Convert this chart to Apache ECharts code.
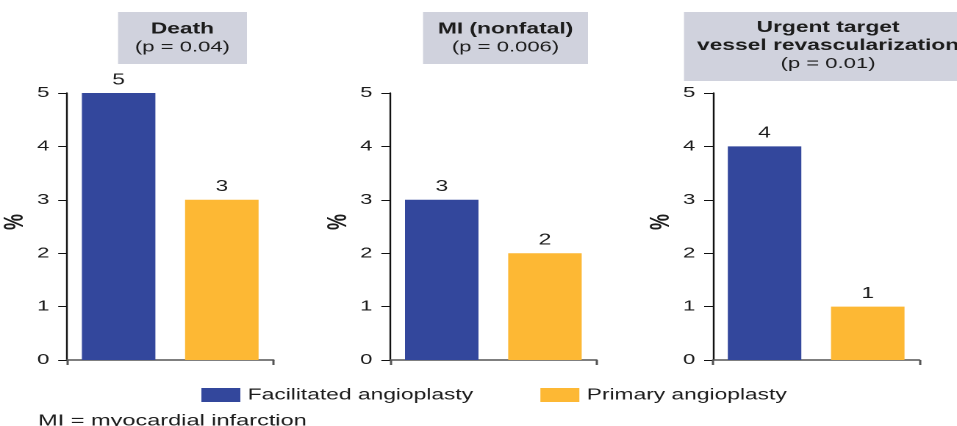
<!DOCTYPE html>
<html>
<head>
<meta charset="utf-8">
<script src="https://cdn.jsdelivr.net/npm/echarts@6/dist/echarts.min.js"></script>
<style>
  html, body { margin: 0; padding: 0; background: #ffffff; overflow: hidden; }
  #wrap { width: 957px; height: 426px; overflow: hidden; }
  /* the drawing is laid out on a narrow canvas and widened horizontally */
  #chart { width: 651px; height: 426px; transform: scaleX(1.47); transform-origin: 0 0; }
</style>
</head>
<body>
<div id="wrap"><div id="chart"></div></div>
<script>
// Outcome panels and their values (%)
const outcomeTitles = ['Death', 'MI (nonfatal)', 'Urgent target\nvessel revascularization'];
const pLabels = ['(p = 0.04)', '(p = 0.006)', '(p = 0.01)'];
const groups = ['Facilitated angioplasty', 'Primary angioplasty'];
const facilitated = [5, 3, 4];
const primary = [3, 2, 1];
const yMin = 0;
const yMax = 5;
const yStep = 1;
const yName = '%';
const footnote = 'MI = myocardial infarction';

// Layout (canvas units before horizontal widening)
const gridLefts = [45.6, 265.4, 485.0];
const gridWidth = 140.4;
const gridTop = 93;
const gridHeight = 267;
const boxes = [
  { x: 80.3, y: 12, w: 87.7, h: 52, cx: 124.1, cy: 38.5 },
  { x: 287.8, y: 12, w: 112.2, h: 52, cx: 343.9, cy: 38.5 },
  { x: 465.3, y: 12, w: 200, h: 69, cx: 563.3, cy: 46 }
];

const BLUE = '#33479c';
const ORANGE = '#fdb834';
const INK = '#1c1c1c';
const FONT = '"Liberation Sans", Arial, Helvetica, sans-serif';

const chart = echarts.init(document.getElementById('chart'), null, { renderer: 'canvas', devicePixelRatio: 2 });

const grids = [], xAxes = [], yAxes = [], series = [], graphics = [];

outcomeTitles.forEach((title, i) => {
  grids.push({ left: gridLefts[i], top: gridTop, width: gridWidth, height: gridHeight, containLabel: false });
  xAxes.push({
    type: 'category', gridIndex: i, data: groups,
    axisLine: { show: true, lineStyle: { color: '#555555', width: 1.6 } },
    axisTick: { show: true, length: 5, lineStyle: { color: '#555555', width: 1.5 } },
    axisLabel: { show: false }
  });
  yAxes.push({
    type: 'value', gridIndex: i, min: yMin, max: yMax, interval: yStep,
    name: yName, nameLocation: 'middle', nameGap: 26, nameRotate: 90,
    nameTextStyle: { fontFamily: FONT, fontWeight: 'bold', fontSize: 18, color: INK, padding: [0, 0, 0, 9] },
    axisLine: { show: true, lineStyle: { color: '#111111', width: 1.2 } },
    axisTick: { show: true, length: 6, lineStyle: { color: '#111111', width: 1 } },
    axisLabel: { margin: 12, fontFamily: FONT, fontSize: 15, color: INK },
    splitLine: { show: false }
  });
  const labelStyle = { show: true, position: 'top', distance: 5, fontFamily: FONT, fontSize: 15.5, color: INK };
  series.push({
    type: 'bar', name: groups[0], xAxisIndex: i, yAxisIndex: i,
    data: [facilitated[i], '-'], barWidth: 50, barGap: '-100%',
    itemStyle: { color: BLUE }, label: labelStyle, silent: true
  });
  series.push({
    type: 'bar', name: groups[1], xAxisIndex: i, yAxisIndex: i,
    data: ['-', primary[i]], barWidth: 50, barGap: '-100%',
    itemStyle: { color: ORANGE }, label: labelStyle, silent: true
  });

  const b = boxes[i];
  graphics.push({
    type: 'rect', shape: { x: b.x, y: b.y, width: b.w, height: b.h },
    style: { fill: '#d0d2dd' }, silent: true
  });
  const lines = title.split('\n').map(t => '{t|' + t + '}');
  lines.push('{p|' + pLabels[i] + '}');
  graphics.push({
    type: 'text', x: b.cx, y: b.cy, silent: true,
    style: {
      text: lines.join('\n'), align: 'center', verticalAlign: 'middle',
      fill: INK, fontFamily: FONT,
      rich: {
        t: { fontFamily: FONT, fontWeight: 'bold', fontSize: 15.5, lineHeight: 18, fill: INK },
        p: { fontFamily: FONT, fontSize: 15, lineHeight: 19, fill: INK }
      }
    }
  });
});

graphics.push({
  type: 'text', x: 25.9, y: 421, silent: true,
  style: { text: footnote, fontFamily: FONT, fontSize: 16, fill: INK, align: 'left', verticalAlign: 'middle' }
});

const legendBase = {
  top: 382, icon: 'rect', itemWidth: 26.5, itemHeight: 14, selectedMode: false,
  textStyle: { fontFamily: FONT, fontSize: 15.5, color: INK }
};

chart.setOption({
  animation: false,
  backgroundColor: '#ffffff',
  grid: grids,
  xAxis: xAxes,
  yAxis: yAxes,
  series: series,
  legend: [
    Object.assign({}, legendBase, { left: 132, data: [groups[0]] }),
    Object.assign({}, legendBase, { left: 362.6, data: [groups[1]] })
  ],
  graphic: graphics
});
</script>
</body>
</html>
